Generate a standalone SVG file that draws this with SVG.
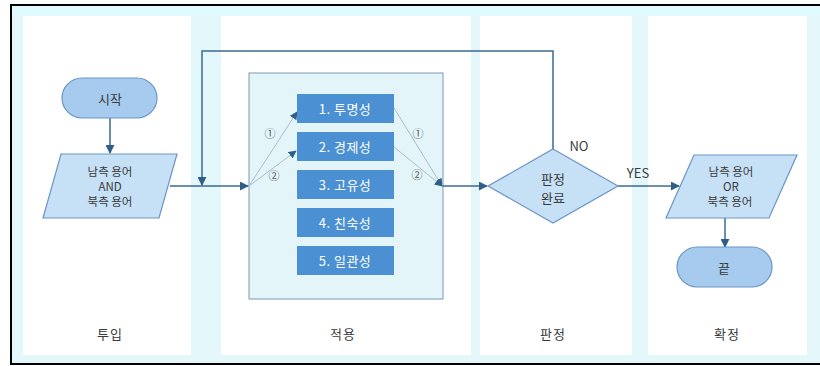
<svg xmlns="http://www.w3.org/2000/svg" width="820" height="366" viewBox="0 0 820 366">
<defs>
<marker id="ah" viewBox="0 0 10 10" refX="9" refY="5" markerWidth="9" markerHeight="9" markerUnits="userSpaceOnUse" orient="auto"><path d="M0,0 L10,5 L0,10 z" fill="#2f5f88"/></marker>
<marker id="ahs" viewBox="0 0 10 10" refX="9" refY="5" markerWidth="8" markerHeight="8" markerUnits="userSpaceOnUse" orient="auto"><path d="M0,0 L10,5 L0,10 z" fill="#2f5f88"/></marker>
</defs>
<style>
text{font-family:"Noto Sans CJK KR","Noto Sans",sans-serif;text-anchor:middle;dominant-baseline:central;fill:#3a3a3a}
.lane{fill:#ffffff}
.term{fill:#a6cbef;stroke:#6a95c6;stroke-width:1.2}
.io{fill:#c6e0f6;stroke:#6a95c6;stroke-width:1.2}
.box{fill:#4a90d2}
.bt{fill:#ffffff;font-size:13px;letter-spacing:0.5px}
.nt{font-size:13px}
.ml{font-size:11.5px}
.lt{font-size:13px;letter-spacing:1px}
.c{fill:none;stroke:#3a6a92;stroke-width:1.5}
.t{fill:none;stroke:#a9bccc;stroke-width:1}
.num{font-size:11px;fill:#555}
</style>
<rect x="11" y="5" width="809" height="359" fill="#e4f7fb"/>
<rect x="11" y="5" width="809" height="10" fill="#dffbfe"/>
<path d="M820,5 H11 V364 H820" fill="none" stroke="#000" stroke-width="2"/>
<g id="lanes">
<rect class="lane" x="23" y="16" width="168" height="339"/>
<rect class="lane" x="221" y="16" width="250" height="339"/>
<rect class="lane" x="480" y="16" width="152" height="339"/>
<rect class="lane" x="648" y="16" width="159" height="339"/>
<text class="lt" x="110" y="333">투입</text>
<text class="lt" x="343" y="333">적용</text>
<text class="lt" x="553" y="333">판정</text>
<text class="lt" x="727" y="333">확정</text>
</g>
<g id="container"><rect x="249" y="73" width="194" height="226" fill="#e4f5fa" stroke="#8fa9bf" stroke-width="1.2"/></g>
<g id="connectors">
<line class="c" x1="110" y1="118" x2="110" y2="153" marker-end="url(#ah)"/>
<line class="c" x1="170" y1="186" x2="248" y2="186" marker-end="url(#ah)"/>
<polyline class="c" points="553,149 553,51 202,51 202,185" marker-end="url(#ah)"/>
<line class="c" x1="443" y1="186" x2="487" y2="186" marker-end="url(#ah)"/>
<line class="c" x1="618" y1="186" x2="679" y2="186" marker-end="url(#ah)"/>
<line class="c" x1="725" y1="218" x2="725" y2="247" marker-end="url(#ah)"/>
<line class="t" x1="249" y1="186" x2="297" y2="112" marker-end="url(#ahs)"/>
<line class="t" x1="249" y1="186" x2="296" y2="151" marker-end="url(#ahs)"/>
<line class="t" x1="394" y1="108" x2="442" y2="186" marker-end="url(#ahs)"/>
<line class="t" x1="394" y1="147" x2="442" y2="186" marker-end="url(#ahs)"/>
<text class="num" x="270" y="133">①</text>
<text class="num" x="274" y="175">②</text>
<text class="num" x="418" y="133">①</text>
<text class="num" x="417" y="174">②</text>
<text class="nt" x="579" y="145">NO</text>
<text class="nt" x="638" y="172">YES</text>
</g>
<g id="start"><rect class="term" x="62" y="78" width="95" height="40" rx="20"/><text class="nt" x="110" y="98">시작</text></g>
<g id="input"><polygon class="io" points="61,154 177,154 159,218 43,218"/><text class="ml" x="110" y="171">남측 용어</text><text class="ml" x="110" y="186">AND</text><text class="ml" x="110" y="201">북측 용어</text></g>
<g id="b1"><rect class="box" x="297" y="94" width="97" height="29"/><text class="bt" x="345" y="108">1. 투명성</text></g>
<g id="b2"><rect class="box" x="297" y="132" width="97" height="29"/><text class="bt" x="345" y="146">2. 경제성</text></g>
<g id="b3"><rect class="box" x="297" y="170" width="97" height="29"/><text class="bt" x="345" y="184">3. 고유성</text></g>
<g id="b4"><rect class="box" x="297" y="208" width="97" height="29"/><text class="bt" x="345" y="222">4. 친숙성</text></g>
<g id="b5"><rect class="box" x="297" y="246" width="97" height="29"/><text class="bt" x="345" y="260">5. 일관성</text></g>
<g id="decision"><polygon class="io" points="553,149 618,186 553,223 488,186"/><text class="nt" x="553" y="178">판정</text><text class="nt" x="553" y="197">완료</text></g>
<g id="output"><polygon class="io" points="694,155 797,155 769,218 666,218"/><text class="ml" x="731" y="171">남측 용어</text><text class="ml" x="731" y="186">OR</text><text class="ml" x="730" y="201">북측 용어</text></g>
<g id="end"><rect class="term" x="677" y="247" width="95" height="40" rx="20"/><text class="nt" x="724" y="267">끝</text></g>
</svg>
